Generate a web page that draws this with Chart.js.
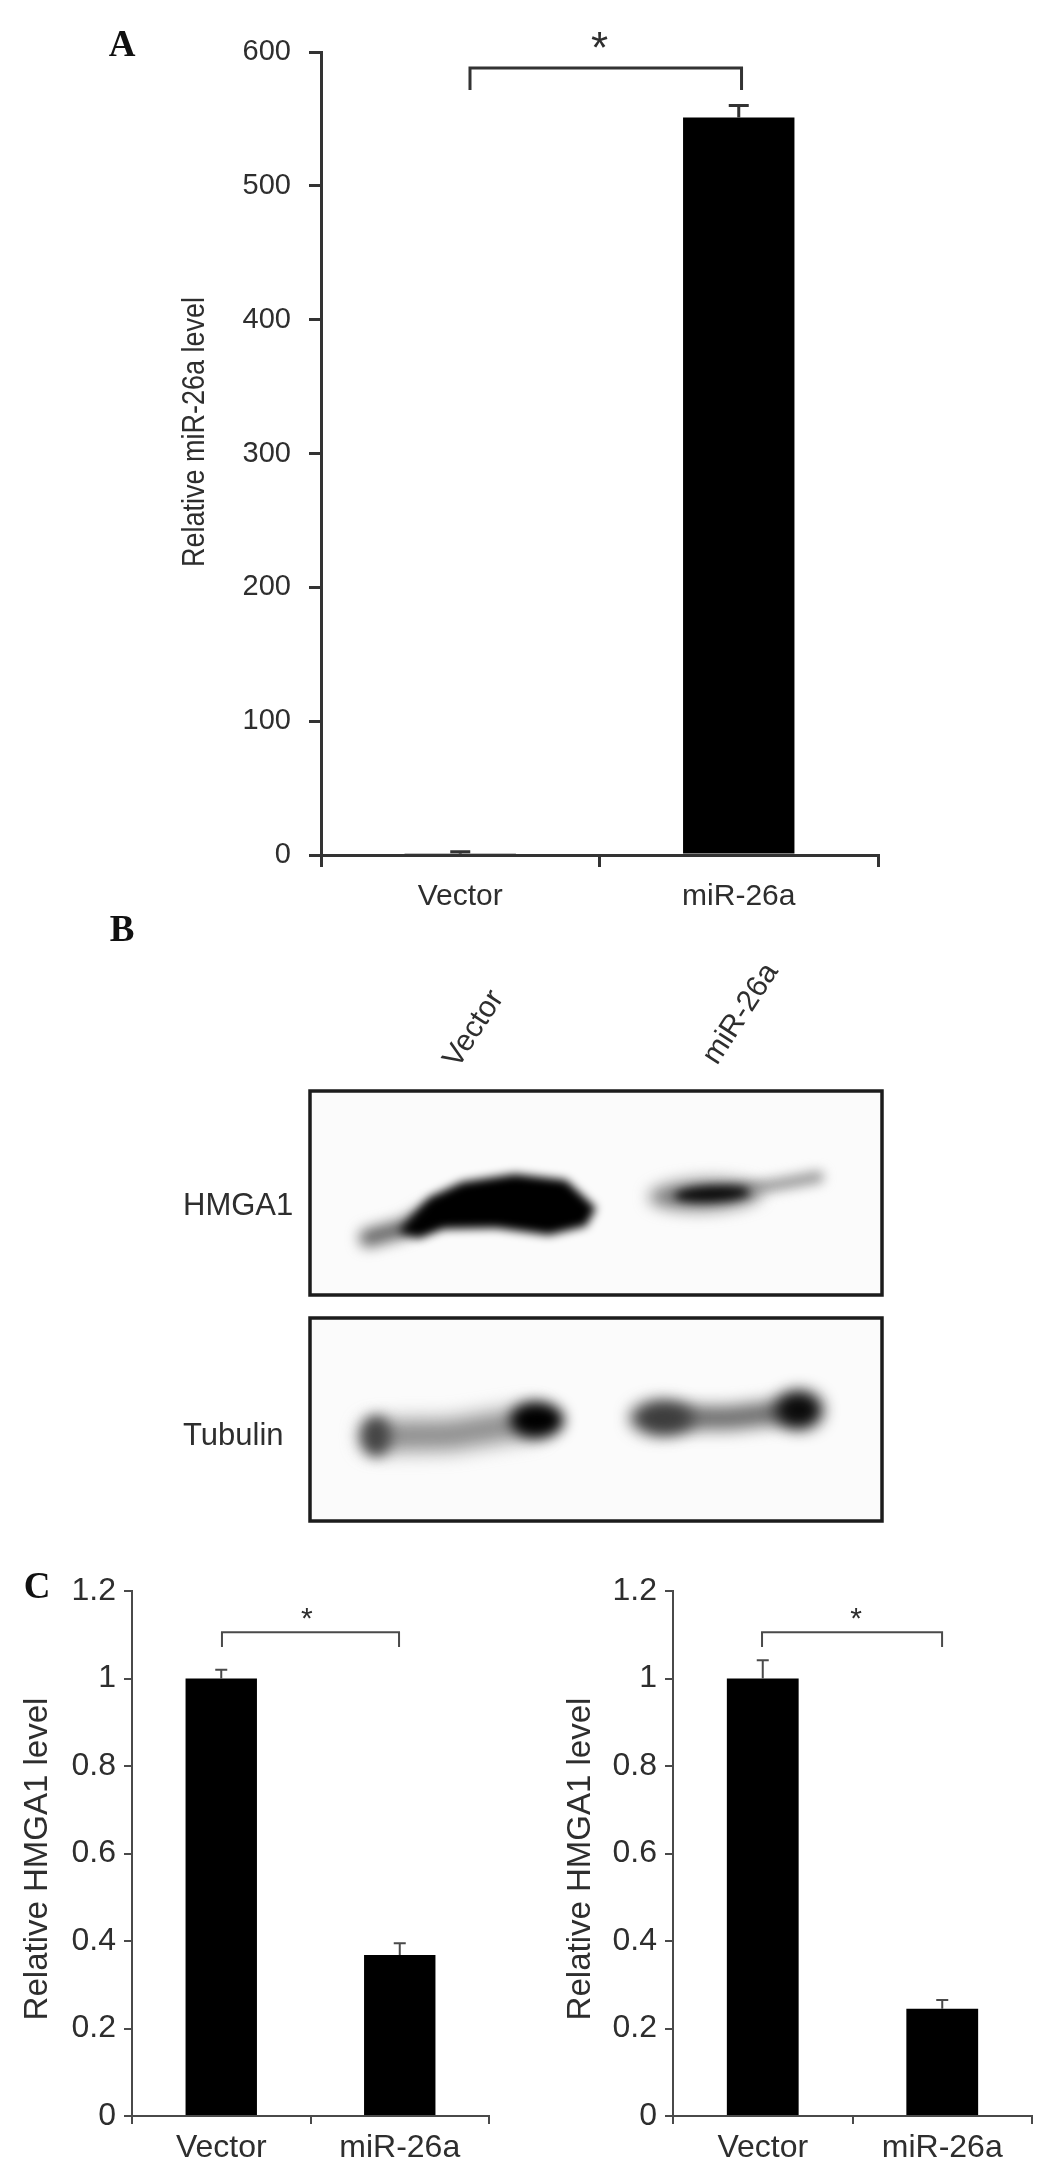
<!DOCTYPE html>
<html>
<head>
<meta charset="utf-8">
<title>miR-26a HMGA1</title>
<script src="https://cdn.jsdelivr.net/npm/chart.js@4"></script>
<style>
  html, body { margin: 0; padding: 0; background: #fff; overflow: hidden; }
  canvas { position: absolute; display: block; filter: blur(0.5px); }
</style>
</head>
<body>
<canvas id="panelA" width="1045" height="930" style="left:0px;top:0px"></canvas>
<canvas id="panelB" width="1045" height="640" style="left:0px;top:900px"></canvas>
<canvas id="panelC1" width="520" height="627" style="left:0px;top:1540px"></canvas>
<canvas id="panelC2" width="525" height="627" style="left:520px;top:1540px"></canvas>
<script>
const categories = ['Vector', 'miR-26a'];

// Panel A
const levelsA = [1, 551];
const errorsA = [1.5, 9];
const ticksA = ['0', '100', '200', '300', '400', '500', '600'];

// Panel C, left and right
const levelsC1 = [1, 0.368];
const errorsC1 = [0.02, 0.027];
const levelsC2 = [1, 0.245];
const errorsC2 = [0.042, 0.02];
const ticksC = ['0', '0.2', '0.4', '0.6', '0.8', '1', '1.2'];

const SANS = '"Liberation Sans", Arial, sans-serif';
const SERIF = '"Liberation Serif", "Times New Roman", serif';
const INK = '#2e2e2e';

// error bars, significance bracket and free text
const extras = {
  id: 'extras',
  afterDatasetsDraw(chart, args, opts) {
    const ctx = chart.ctx;
    const x = chart.scales.x;
    const y = chart.scales.y;
    ctx.save();
    ctx.strokeStyle = opts.lineColor;
    ctx.lineWidth = opts.lineWidth;

    opts.errors.forEach((err, i) => {
      const cx = x.getPixelForValue(i);
      const top = y.getPixelForValue(opts.values[i] + err);
      const base = y.getPixelForValue(opts.values[i]);
      ctx.beginPath();
      ctx.moveTo(cx, base);
      ctx.lineTo(cx, top);
      ctx.moveTo(cx - opts.capSize, top);
      ctx.lineTo(cx + opts.capSize, top);
      ctx.stroke();
    });

    const b = opts.bracket;
    ctx.beginPath();
    ctx.moveTo(x.getPixelForValue(b.from), y.getPixelForValue(b.low));
    ctx.lineTo(x.getPixelForValue(b.from), y.getPixelForValue(b.high));
    ctx.lineTo(x.getPixelForValue(b.to), y.getPixelForValue(b.high));
    ctx.lineTo(x.getPixelForValue(b.to), y.getPixelForValue(b.low));
    ctx.stroke();

    ctx.fillStyle = INK;
    ctx.textAlign = 'center';
    ctx.textBaseline = 'middle';
    ctx.font = opts.starFont;
    ctx.fillText('*', x.getPixelForValue(b.star), y.getPixelForValue(b.high) - opts.starGap);

    if (opts.yTitle) {
      ctx.save();
      ctx.translate(opts.yTitle.x, opts.yTitle.y);
      ctx.rotate(-Math.PI / 2);
      ctx.scale(opts.yTitle.stretch, 1); // the original lettering is a bit condensed
      ctx.font = opts.yTitle.font;
      ctx.fillText(opts.yTitle.text, 0, 0);
      ctx.restore();
    }

    if (opts.panelLabel) {
      ctx.fillStyle = '#111';
      ctx.font = 'bold 37px ' + SERIF;
      ctx.fillText(opts.panelLabel.text, opts.panelLabel.x, opts.panelLabel.y);
    }
    ctx.restore();
  }
};

function makeBars(id, values, yLabels, s) {
  return new Chart(document.getElementById(id).getContext('2d'), {
    type: 'bar',
    plugins: [extras],
    data: {
      labels: categories,
      datasets: [{
        data: values,
        backgroundColor: '#000',
        barPercentage: s.barPercentage,
        categoryPercentage: 1
      }]
    },
    options: {
      responsive: false,
      animation: false,
      layout: { padding: { top: s.top, right: s.right, left: 0, bottom: 0 } },
      plugins: {
        legend: { display: false },
        tooltip: { enabled: false },
        title: { display: false },
        extras: s.extras
      },
      scales: {
        x: {
          afterFit(scale) { scale.height = s.xHeight; },
          grid: { drawOnChartArea: false, color: s.extras.lineColor, lineWidth: s.lineWidth, tickLength: s.tickLength },
          border: { color: s.extras.lineColor, width: s.lineWidth },
          ticks: {
            color: INK,
            maxRotation: 0,
            padding: s.xPad,
            font: { family: SANS, size: s.xFont }
          }
        },
        y: {
          min: 0,
          max: s.max,
          afterFit(scale) { scale.width = s.yWidth; },
          grid: { drawOnChartArea: false, color: s.extras.lineColor, lineWidth: s.lineWidth, tickLength: s.tickLength },
          border: { color: s.extras.lineColor, width: s.lineWidth },
          ticks: {
            stepSize: s.max / (yLabels.length - 1),
            color: INK,
            padding: s.yPad,
            font: { family: SANS, size: s.yFont },
            callback: (v, i) => yLabels[i]
          }
        }
      }
    }
  });
}

makeBars('panelA', levelsA, ticksA, {
  max: 600, top: 52, right: 167, xHeight: 75, yWidth: 321,
  barPercentage: 0.4, lineWidth: 3, tickLength: 12, xPad: 12, yPad: 18, xFont: 30, yFont: 29,
  extras: {
    values: levelsA, errors: errorsA, capSize: 10, lineWidth: 3, lineColor: '#333',
    bracket: { from: 0.035, to: 1.01, high: 588, low: 571.6, star: 0.5 },
    starFont: '44px ' + SANS, starGap: 17,
    yTitle: { text: 'Relative miR-26a level', x: 195, y: 432, stretch: 0.87, font: '31px ' + SANS },
    panelLabel: { text: 'A', x: 122, y: 46 }
  }
});

makeBars('panelC1', levelsC1, ticksC, {
  max: 1.2, top: 51, right: 31, xHeight: 51, yWidth: 132,
  barPercentage: 0.4, lineWidth: 2, tickLength: 8, xPad: 5, yPad: 8, xFont: 32, yFont: 32,
  extras: {
    values: levelsC1, errors: errorsC1, capSize: 6, lineWidth: 2, lineColor: '#4a4a4a',
    bracket: { from: 0.004, to: 0.996, high: 1.106, low: 1.072, star: 0.48 },
    starFont: '30px ' + SANS, starGap: 12,
    yTitle: { text: 'Relative HMGA1 level', x: 38, y: 319, stretch: 1, font: '33px ' + SANS },
    panelLabel: { text: 'C', x: 37, y: 48 }
  }
});

makeBars('panelC2', levelsC2, ticksC, {
  max: 1.2, top: 51, right: 13, xHeight: 51, yWidth: 153,
  barPercentage: 0.4, lineWidth: 2, tickLength: 8, xPad: 5, yPad: 8, xFont: 32, yFont: 32,
  extras: {
    values: levelsC2, errors: errorsC2, capSize: 6, lineWidth: 2, lineColor: '#4a4a4a',
    bracket: { from: -0.004, to: 0.999, high: 1.106, low: 1.072, star: 0.52 },
    starFont: '30px ' + SANS, starGap: 12,
    yTitle: { text: 'Relative HMGA1 level', x: 61, y: 319, stretch: 1, font: '33px ' + SANS }
  }
});

// Panel B is a photo of a blot, painted by hand, it carries no axes
function drawBlot() {
  const ctx = document.getElementById('panelB').getContext('2d');
  ctx.translate(0, -900);

  function box(x, y, w, h) {
    ctx.fillStyle = '#fbfbfb';
    ctx.fillRect(x, y, w, h);
    ctx.strokeStyle = '#1c1c1c';
    ctx.lineWidth = 3.5;
    ctx.strokeRect(x, y, w, h);
  }
  function blob(cx, cy, rx, ry, rot, color, blur) {
    ctx.filter = 'blur(' + blur + 'px)';
    ctx.fillStyle = color;
    ctx.beginPath();
    ctx.ellipse(cx, cy, rx, ry, rot, 0, Math.PI * 2);
    ctx.fill();
    ctx.filter = 'none';
  }
  function smear(points, width, color, blur) {
    ctx.filter = 'blur(' + blur + 'px)';
    ctx.strokeStyle = color;
    ctx.lineWidth = width;
    ctx.lineCap = 'round';
    ctx.lineJoin = 'round';
    ctx.beginPath();
    points.forEach((p, i) => (i ? ctx.lineTo(p[0], p[1]) : ctx.moveTo(p[0], p[1])));
    ctx.stroke();
    ctx.filter = 'none';
  }

  box(310, 1091, 572, 204);
  box(310, 1318, 572, 203);

  // HMGA1, vector lane
  smear([[368, 1238], [405, 1228], [432, 1212]], 18, '#666', 7);
  ctx.filter = 'blur(5px)';
  ctx.fillStyle = '#000';
  ctx.beginPath();
  [[398, 1232], [430, 1197], [462, 1182], [515, 1174], [566, 1180], [596, 1208], [586, 1226],
   [549, 1235], [496, 1228], [443, 1229], [419, 1238]].forEach((p, i) => (i ? ctx.lineTo(p[0], p[1]) : ctx.moveTo(p[0], p[1])));
  ctx.closePath();
  ctx.fill();
  ctx.filter = 'none';

  // HMGA1, miR-26a lane
  smear([[730, 1192], [780, 1184], [818, 1177]], 12, '#999', 6);
  blob(705, 1195, 56, 15, -0.04, '#777', 8);
  blob(712, 1194, 38, 8, -0.05, '#0c0c0c', 5);

  // Tubulin, vector lane
  smear([[376, 1436], [450, 1435], [530, 1422]], 30, '#8a8a8a', 10);
  blob(376, 1436, 15, 20, 0, '#444', 7);
  blob(537, 1420, 27, 18, 0, '#000', 7);

  // Tubulin, miR-26a lane
  smear([[660, 1418], [730, 1418], [799, 1410]], 24, '#6f6f6f', 8);
  blob(662, 1418, 32, 17, 0, '#3c3c3c', 8);
  blob(799, 1410, 24, 19, 0, '#0a0a0a', 8);

  ctx.fillStyle = INK;
  ctx.textBaseline = 'middle';
  ctx.font = '31px ' + SANS;
  ctx.textAlign = 'left';
  ctx.fillText('HMGA1', 183, 1206);
  ctx.fillText('Tubulin', 183, 1436);

  ctx.textAlign = 'center';
  ctx.font = '30px ' + SANS;
  [['Vector', 474, 1029], ['miR-26a', 741, 1014]].forEach(t => {
    ctx.save();
    ctx.translate(t[1], t[2]);
    ctx.rotate(-57 * Math.PI / 180);
    ctx.fillText(t[0], 0, 0);
    ctx.restore();
  });

  ctx.fillStyle = '#111';
  ctx.font = 'bold 37px ' + SERIF;
  ctx.fillText('B', 122, 931);
}
drawBlot();
</script>
</body>
</html>
